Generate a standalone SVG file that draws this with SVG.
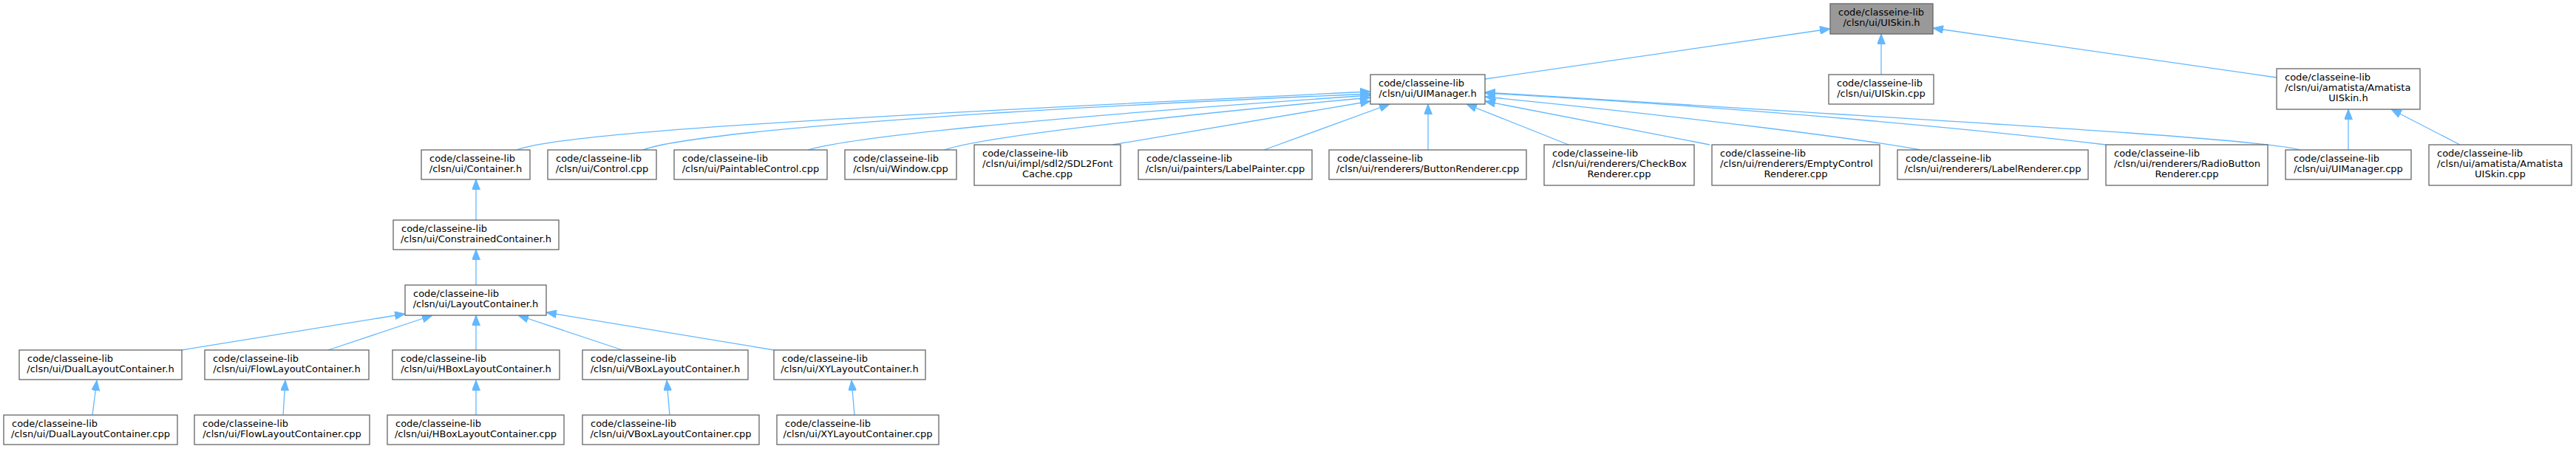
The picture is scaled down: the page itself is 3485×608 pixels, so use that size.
<svg xmlns="http://www.w3.org/2000/svg" width="3485" height="608" viewBox="0 0 3485 608">
<style>
.node rect{fill:#ffffff;stroke:#666666;stroke-width:1.3}
.root rect{fill:#999999}
text{font-family:"DejaVu Sans","Liberation Sans",sans-serif;font-size:13px;fill:#000000}
.c{text-anchor:middle}
.edge path{fill:none;stroke:#63b8ff;stroke-width:1.3;marker-end:url(#arr)}
</style>
<defs>
<marker id="arr" viewBox="0 0 14 11" refX="14" refY="5.5" markerWidth="14" markerHeight="11" markerUnits="userSpaceOnUse" orient="auto">
<path d="M0,0 L14,5.5 L0,11 z" fill="#63b8ff" stroke="#63b8ff" stroke-width="1"/>
</marker>
</defs>
<rect width="3485" height="608" fill="#ffffff"/>
<g id="edges" class="edge">
<path d="M2009,107 L2476,39"/>
<path d="M2545,101 L2545,46"/>
<path d="M3080,105 L2615,38"/>
<path d="M3177,203 L3177,148"/>
<path d="M3328,196 L3235,148"/>
<path d="M699,203 C760,180 1100,160 1854,124"/>
<path d="M870,203 C920,184 1200,155 1854,127"/>
<path d="M1093,203 C1150,186 1400,160 1854,129"/>
<path d="M1278,203 C1320,188 1500,165 1854,132"/>
<path d="M1505,196 L1854,137"/>
<path d="M1710,203 L1880,141"/>
<path d="M1932,203 L1932,141"/>
<path d="M2122,196 L1984,141"/>
<path d="M2313,196 L2009,137"/>
<path d="M2598,203 C2530,190 2300,160 2009,131"/>
<path d="M2849,196 C2700,178 2400,148 2009,126"/>
<path d="M3112,203 C3060,188 2700,168 2009,125"/>
<path d="M644,298 L644,243"/>
<path d="M644,386 L644,338"/>
<path d="M246,474 L548,425"/>
<path d="M444,474 L585,427"/>
<path d="M644,474 L644,427"/>
<path d="M842,474 L701,427"/>
<path d="M1047,474 L739,423"/>
<path d="M125,562 L131,515"/>
<path d="M383,562 L386,515"/>
<path d="M644,562 L644,515"/>
<path d="M906,562 L902,515"/>
<path d="M1156,562 L1152,515"/>
</g>
<g id="UISkin_h" class="node root"><rect x="2476" y="5" width="139" height="41"/><text x="2487" y="21">code/classeine-lib</text><text class="c" x="2545.5" y="35">/clsn/ui/UISkin.h</text></g>
<g id="UIManager_h" class="node"><rect x="1854" y="101" width="155" height="40"/><text x="1865" y="117">code/classeine-lib</text><text class="c" x="1931.5" y="131">/clsn/ui/UIManager.h</text></g>
<g id="UISkin_cpp" class="node"><rect x="2474" y="101" width="142" height="40"/><text x="2485" y="117">code/classeine-lib</text><text class="c" x="2545" y="131">/clsn/ui/UISkin.cpp</text></g>
<g id="AmatistaUISkin_h" class="node"><rect x="3080" y="93" width="194" height="55"/><text x="3091" y="108.5">code/classeine-lib</text><text x="3091" y="122.5">/clsn/ui/amatista/Amatista</text><text class="c" x="3177" y="136.5">UISkin.h</text></g>
<g id="Container_h" class="node"><rect x="570" y="203" width="147" height="40"/><text x="581" y="219">code/classeine-lib</text><text class="c" x="643.5" y="233">/clsn/ui/Container.h</text></g>
<g id="Control_cpp" class="node"><rect x="741" y="203" width="147" height="40"/><text x="752" y="219">code/classeine-lib</text><text class="c" x="814.5" y="233">/clsn/ui/Control.cpp</text></g>
<g id="PaintableControl_cpp" class="node"><rect x="912" y="203" width="207" height="40"/><text x="923" y="219">code/classeine-lib</text><text class="c" x="1015.5" y="233">/clsn/ui/PaintableControl.cpp</text></g>
<g id="Window_cpp" class="node"><rect x="1143" y="203" width="151" height="40"/><text x="1154" y="219">code/classeine-lib</text><text class="c" x="1218.5" y="233">/clsn/ui/Window.cpp</text></g>
<g id="SDL2FontCache_cpp" class="node"><rect x="1318" y="196" width="198" height="55"/><text x="1329" y="211.5">code/classeine-lib</text><text x="1329" y="225.5">/clsn/ui/impl/sdl2/SDL2Font</text><text class="c" x="1417" y="239.5">Cache.cpp</text></g>
<g id="LabelPainter_cpp" class="node"><rect x="1540" y="203" width="235" height="40"/><text x="1551" y="219">code/classeine-lib</text><text class="c" x="1657.5" y="233">/clsn/ui/painters/LabelPainter.cpp</text></g>
<g id="ButtonRenderer_cpp" class="node"><rect x="1798" y="203" width="267" height="40"/><text x="1809" y="219">code/classeine-lib</text><text class="c" x="1931.5" y="233">/clsn/ui/renderers/ButtonRenderer.cpp</text></g>
<g id="CheckBoxRenderer_cpp" class="node"><rect x="2089" y="196" width="203" height="55"/><text x="2100" y="211.5">code/classeine-lib</text><text x="2100" y="225.5">/clsn/ui/renderers/CheckBox</text><text class="c" x="2190.5" y="239.5">Renderer.cpp</text></g>
<g id="EmptyControlRenderer_cpp" class="node"><rect x="2316" y="196" width="227" height="55"/><text x="2327" y="211.5">code/classeine-lib</text><text x="2327" y="225.5">/clsn/ui/renderers/EmptyControl</text><text class="c" x="2429.5" y="239.5">Renderer.cpp</text></g>
<g id="LabelRenderer_cpp" class="node"><rect x="2567" y="203" width="258" height="40"/><text x="2578" y="219">code/classeine-lib</text><text class="c" x="2696" y="233">/clsn/ui/renderers/LabelRenderer.cpp</text></g>
<g id="RadioButtonRenderer_cpp" class="node"><rect x="2849" y="196" width="219" height="55"/><text x="2860" y="211.5">code/classeine-lib</text><text x="2860" y="225.5">/clsn/ui/renderers/RadioButton</text><text class="c" x="2958.5" y="239.5">Renderer.cpp</text></g>
<g id="UIManager_cpp" class="node"><rect x="3092" y="203" width="170" height="40"/><text x="3103" y="219">code/classeine-lib</text><text class="c" x="3177" y="233">/clsn/ui/UIManager.cpp</text></g>
<g id="AmatistaUISkin_cpp" class="node"><rect x="3286" y="196" width="193" height="55"/><text x="3297" y="211.5">code/classeine-lib</text><text x="3297" y="225.5">/clsn/ui/amatista/Amatista</text><text class="c" x="3382.5" y="239.5">UISkin.cpp</text></g>
<g id="ConstrainedContainer_h" class="node"><rect x="532" y="298" width="224" height="40"/><text x="543" y="314">code/classeine-lib</text><text class="c" x="644" y="328">/clsn/ui/ConstrainedContainer.h</text></g>
<g id="LayoutContainer_h" class="node"><rect x="548" y="386" width="191" height="41"/><text x="559" y="402">code/classeine-lib</text><text class="c" x="643.5" y="416">/clsn/ui/LayoutContainer.h</text></g>
<g id="DualLayoutContainer_h" class="node"><rect x="26" y="474" width="220" height="40"/><text x="37" y="490">code/classeine-lib</text><text class="c" x="136" y="504">/clsn/ui/DualLayoutContainer.h</text></g>
<g id="FlowLayoutContainer_h" class="node"><rect x="277" y="474" width="222" height="40"/><text x="288" y="490">code/classeine-lib</text><text class="c" x="388" y="504">/clsn/ui/FlowLayoutContainer.h</text></g>
<g id="HBoxLayoutContainer_h" class="node"><rect x="531" y="474" width="226" height="40"/><text x="542" y="490">code/classeine-lib</text><text class="c" x="644" y="504">/clsn/ui/HBoxLayoutContainer.h</text></g>
<g id="VBoxLayoutContainer_h" class="node"><rect x="788" y="474" width="224" height="40"/><text x="799" y="490">code/classeine-lib</text><text class="c" x="900" y="504">/clsn/ui/VBoxLayoutContainer.h</text></g>
<g id="XYLayoutContainer_h" class="node"><rect x="1047" y="474" width="205" height="40"/><text x="1058" y="490">code/classeine-lib</text><text class="c" x="1149.5" y="504">/clsn/ui/XYLayoutContainer.h</text></g>
<g id="DualLayoutContainer_cpp" class="node"><rect x="5" y="562" width="235" height="40"/><text x="16" y="578">code/classeine-lib</text><text class="c" x="122.5" y="592">/clsn/ui/DualLayoutContainer.cpp</text></g>
<g id="FlowLayoutContainer_cpp" class="node"><rect x="263" y="562" width="237" height="40"/><text x="274" y="578">code/classeine-lib</text><text class="c" x="381.5" y="592">/clsn/ui/FlowLayoutContainer.cpp</text></g>
<g id="HBoxLayoutContainer_cpp" class="node"><rect x="524" y="562" width="239" height="40"/><text x="535" y="578">code/classeine-lib</text><text class="c" x="643.5" y="592">/clsn/ui/HBoxLayoutContainer.cpp</text></g>
<g id="VBoxLayoutContainer_cpp" class="node"><rect x="788" y="562" width="239" height="40"/><text x="799" y="578">code/classeine-lib</text><text class="c" x="907.5" y="592">/clsn/ui/VBoxLayoutContainer.cpp</text></g>
<g id="XYLayoutContainer_cpp" class="node"><rect x="1051" y="562" width="219" height="40"/><text x="1062" y="578">code/classeine-lib</text><text class="c" x="1160.5" y="592">/clsn/ui/XYLayoutContainer.cpp</text></g>
</svg>
